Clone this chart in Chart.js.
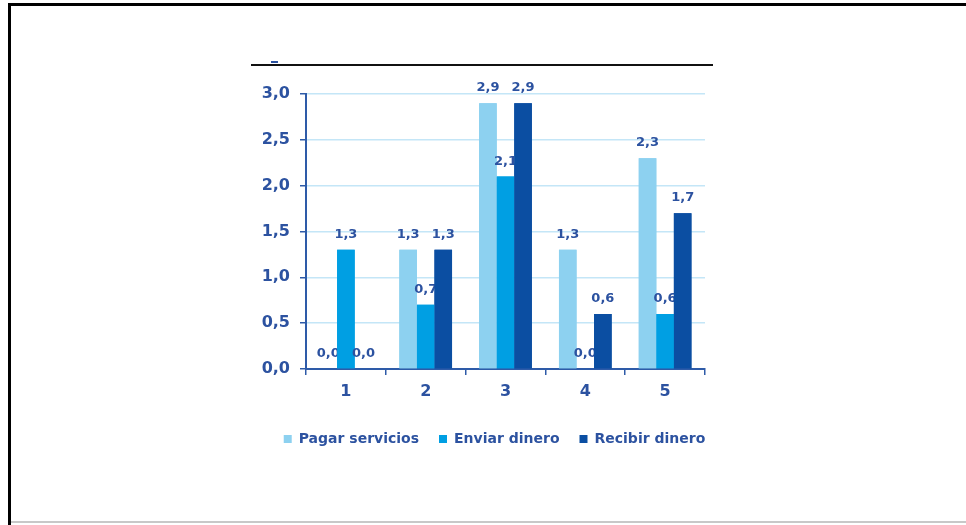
<!DOCTYPE html>
<html>
<head>
<meta charset="utf-8">
<script src="https://cdn.jsdelivr.net/npm/chart.js@4.4.0/dist/chart.umd.min.js"></script>
<style>
  html, body { margin: 0; padding: 0; background: #fff; }
  #wrap { width: 966px; height: 525px; }
</style>
</head>
<body>
<div id="wrap"><canvas id="myChart" width="966" height="525"></canvas></div>
<script>
const categories = ['1', '2', '3', '4', '5'];
const seriesNames = ['Pagar servicios', 'Enviar dinero', 'Recibir dinero'];
const pagarServicios = [0.0, 1.3, 2.9, 1.3, 2.3];
const enviarDinero = [1.3, 0.7, 2.1, 0.0, 0.6];
const recibirDinero = [0.0, 1.3, 2.9, 0.6, 1.7];
const yTicks = [0, 0.5, 1.0, 1.5, 2.0, 2.5, 3.0];

const TEXT_BLUE = '#2c52a0';
const AXIS_BLUE = '#2e5ba8';
const colors = ['#8dd1f0', '#009fe3', '#0b4ea2'];

function fmt(v) {
    return v.toFixed(1).replace('.', ',');
}

// page frame, the black rule over the chart and the little leftover title mark
const framePlugin = {
    id: 'frame',
    beforeDraw(chart) {
        const c = chart.ctx;
        c.save();
        c.fillStyle = '#fff';
        c.fillRect(0, 0, chart.width, chart.height);
        c.fillStyle = '#000';
        c.fillRect(8, 3, 958, 3);
        c.fillRect(8, 3, 3, 522);
        c.fillStyle = '#c8c8c8';
        c.fillRect(11, 521, 955, 2);
        c.fillStyle = '#111';
        c.fillRect(251, 64, 462, 2);
        c.fillStyle = '#2c52a0';
        c.fillRect(271, 61, 7, 2);
        c.restore();
    }
};

// value labels: each series is drawn and labelled in turn so the next bars cover them
const labelPlugin = {
    id: 'valueLabels',
    afterDatasetsDraw(chart) {
        const c = chart.ctx;
        c.save();
        chart.data.datasets.forEach((ds, i) => {
            const meta = chart.getDatasetMeta(i);
            meta.data.forEach(bar => bar.draw(c));
            c.font = 'bold 13px "DejaVu Sans"';
            c.fillStyle = TEXT_BLUE;
            c.textAlign = 'center';
            c.textBaseline = 'alphabetic';
            meta.data.forEach((bar, j) => {
                c.fillText(fmt(ds.data[j]), bar.x, bar.y - 12);
            });
        });
        c.restore();
    }
};

const data = {
    labels: categories,
    datasets: [pagarServicios, enviarDinero, recibirDinero].map((vals, i) => ({
        label: seriesNames[i],
        data: vals,
        backgroundColor: colors[i],
        borderWidth: 0,
        barPercentage: 1.0,
        categoryPercentage: 0.66
    }))
};

const config = {
    type: 'bar',
    data: data,
    options: {
        responsive: false,
        animation: false,
        layout: {
            padding: { left: 250, right: 227, top: 94, bottom: 69 }
        },
        plugins: {
            tooltip: { enabled: false },
            legend: {
                position: 'bottom',
                labels: {
                    boxWidth: 8,
                    boxHeight: 8,
                    padding: 20,
                    color: TEXT_BLUE,
                    font: { family: 'DejaVu Sans', size: 14, weight: 'bold' }
                }
            }
        },
        scales: {
            x: {
                grid: {
                    drawOnChartArea: false,
                    color: AXIS_BLUE,
                    tickLength: 6,
                    lineWidth: 1.5
                },
                border: { color: AXIS_BLUE, width: 2 },
                ticks: {
                    color: TEXT_BLUE,
                    padding: 7,
                    font: { family: 'DejaVu Sans', size: 16, weight: 'bold' }
                },
                afterFit(scale) { scale.height = 43; }
            },
            y: {
                min: 0,
                max: 3.0,
                afterBuildTicks(scale) {
                    scale.ticks = yTicks.map(v => ({ value: v }));
                },
                grid: {
                    color: '#c4e6f7',
                    tickColor: AXIS_BLUE,
                    tickLength: 6,
                    lineWidth: 1.5
                },
                border: { color: AXIS_BLUE, width: 2 },
                ticks: {
                    color: TEXT_BLUE,
                    padding: 10,
                    font: { family: 'DejaVu Sans', size: 16, weight: 'bold' },
                    callback: v => fmt(v)
                },
                afterFit(scale) { scale.width = 56; }
            },
            // empty right-hand axis, only used to keep the legend centred where it sits in the picture
            yRight: {
                position: 'right',
                display: true,
                grid: { display: false },
                border: { display: false },
                ticks: { display: false },
                afterFit(scale) { scale.width = 34; }
            }
        }
    },
    plugins: [framePlugin, labelPlugin]
};

const myChart = new Chart(document.getElementById('myChart'), config);
</script>
</body>
</html>
